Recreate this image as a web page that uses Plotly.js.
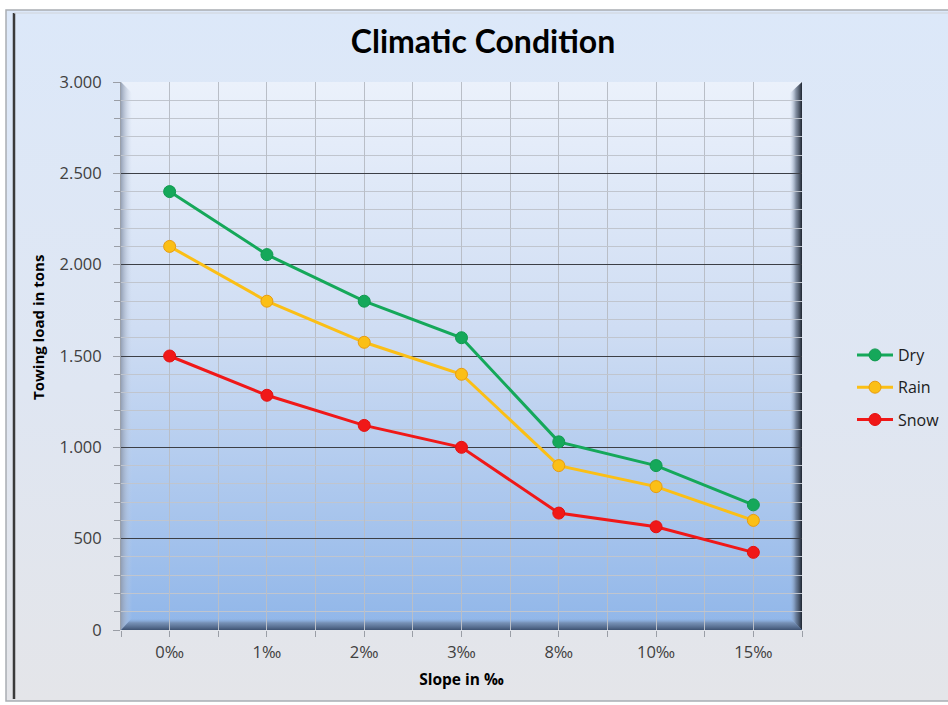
<!DOCTYPE html>
<html>
<head>
<meta charset="utf-8">
<script src="https://cdn.plot.ly/plotly-3.0.1.min.js"></script>
<style>html,body{margin:0;padding:0;background:#fff;}#chart{width:948px;height:705px;}</style>
</head>
<body>
<div id="chart"></div>
<script>
// ---- data ----
const categories = ['0‰', '1‰', '2‰', '3‰', '8‰', '10‰', '15‰'];
const dry  = [2400, 2055, 1800, 1600, 1030, 900, 685];
const rain = [2100, 1800, 1575, 1400, 900, 785, 600];
const snow = [1500, 1285, 1120, 1000, 640, 565, 425];
const seriesNames = ['Dry', 'Rain', 'Snow'];

// ---- layout geometry ----
const W = 948, H = 705;
const ML = 121, MR = 146, MT = 82, MB = 75;
const PW = W - ML - MR, PH = H - MT - MB;
const PX0 = ML, PX1 = W - MR, PY0 = MT, PY1 = H - MB;

const svg = `<svg xmlns='http://www.w3.org/2000/svg' width='${W}' height='${H}' viewBox='0 0 ${W} ${H}' preserveAspectRatio='none'>
<defs>
<linearGradient id='bg' x1='0' y1='0' x2='0' y2='1'>
<stop offset='0' stop-color='#dce8f9'/><stop offset='0.55' stop-color='#dfe6f2'/><stop offset='1' stop-color='#e4e5e9'/></linearGradient>
<linearGradient id='pa' x1='0' y1='0' x2='0' y2='1'>
<stop offset='0' stop-color='#ebf1fb'/><stop offset='0.45' stop-color='#cfddf3'/><stop offset='1' stop-color='#90b6e9'/></linearGradient>
<linearGradient id='lb' x1='0' y1='0' x2='1' y2='0'>
<stop offset='0' stop-color='#8f9bb0' stop-opacity='0.9'/><stop offset='1' stop-color='#c8d4e8' stop-opacity='0'/></linearGradient>
<linearGradient id='bb' x1='0' y1='1' x2='0' y2='0'>
<stop offset='0' stop-color='#3e5272'/><stop offset='0.6' stop-color='#6f86a8' stop-opacity='0.8'/><stop offset='1' stop-color='#90b6e9' stop-opacity='0'/></linearGradient>
<linearGradient id='rb' x1='1' y1='0' x2='0' y2='0'>
<stop offset='0' stop-color='#1e2530'/><stop offset='0.5' stop-color='#56647a' stop-opacity='0.7'/><stop offset='1' stop-color='#a0b4d0' stop-opacity='0'/></linearGradient>
</defs>
<rect x='0' y='0' width='${W}' height='${H}' fill='#ffffff'/>
<rect x='6' y='10' width='${W + 20}' height='${H - 14}' fill='url(#bg)' stroke='#a9adb3' stroke-width='1.5'/>
<line x1='14' y1='13' x2='14' y2='${H - 6}' stroke='#3a3a3a' stroke-width='2.5'/>
<line x1='14' y1='13' x2='${W}' y2='13' stroke='#d0d4da' stroke-width='1'/>
<rect x='${PX0}' y='${PY0}' width='${PW}' height='${PH}' fill='url(#pa)'/>
<polygon points='${PX0},${PY0} ${PX0 + 11},${PY0 + 11} ${PX0 + 11},${PY1 - 12} ${PX0},${PY1}' fill='url(#lb)'/>
<polygon points='${PX0},${PY1} ${PX0 + 11},${PY1 - 12} ${PX1 - 12},${PY1 - 12} ${PX1},${PY1}' fill='url(#bb)'/>
<polygon points='${PX1},${PY0} ${PX1 - 12},${PY0 + 11} ${PX1 - 12},${PY1 - 12} ${PX1},${PY1}' fill='url(#rb)'/>
</svg>`;

const xs = categories.map((_, i) => i);
const colors = ['#15a85a', '#fbbf16', '#f01818'];
const edge = ['#0f9a4f', '#e89c10', '#e41010'];
const values = [dry, rain, snow];

const traces = values.map((v, k) => ({
  type: 'scatter', mode: 'lines+markers',
  name: seriesNames[k], x: xs, y: v,
  legendgroup: 'g' + k,
  line: {color: colors[k], width: 3},
  marker: {color: colors[k], size: 12, line: {color: edge[k], width: 1}},
  hoverinfo: 'y+name'
}));

const FONT = '"Open Sans", "Noto Sans", sans-serif';
const tickFont = {family: FONT, size: 16.5, color: '#404040'};

const layout = {
  width: W, height: H,
  margin: {l: ML, r: MR, t: MT, b: MB, pad: 0, autoexpand: false},
  paper_bgcolor: '#ffffff',
  plot_bgcolor: 'rgba(0,0,0,0)',
  separators: ',.',
  showlegend: true,
  title: {
    text: '<b>Climatic Condition</b>',
    font: {family: 'Lato, "Open Sans", sans-serif', size: 32, color: '#000'},
    xref: 'container', yref: 'container',
    x: 483 / W, y: 1 - 42 / H, xanchor: 'center', yanchor: 'middle'
  },
  xaxis: {
    range: [-0.5, categories.length - 0.5],
    tickvals: xs, ticktext: categories,
    tickfont: tickFont,
    ticks: 'outside', ticklen: 6, tickcolor: '#9a9ea6', tickwidth: 1,
    ticklabelstandoff: 1,
    showgrid: true, gridcolor: '#b9bec7', gridwidth: 1,
    minor: {dtick: 0.5, tick0: -0.5, showgrid: true, gridcolor: '#b9bec7', gridwidth: 1,
            ticks: 'outside', ticklen: 6, tickcolor: '#9a9ea6'},
    showline: false, zeroline: false, fixedrange: true,
    title: {text: '<b>Slope in ‰</b>', font: {family: FONT, size: 15.5, color: '#000'}, standoff: 12}
  },
  yaxis: {
    range: [0, 3000], dtick: 500, tick0: 0,
    tickformat: ',d',
    tickfont: tickFont,
    ticks: 'outside', ticklen: 7, tickcolor: '#9a9ea6', tickwidth: 1,
    ticklabelstandoff: 8,
    showgrid: true, gridcolor: '#3c3f46', gridwidth: 1,
    minor: {dtick: 100, showgrid: true, gridcolor: '#c0c5ce', gridwidth: 1,
            ticks: 'outside', ticklen: 6, tickcolor: '#9a9ea6'},
    showline: true, linecolor: '#9aa0aa', linewidth: 1,
    zeroline: false, fixedrange: true
  },
  legend: {
    x: (852 - ML) / PW, y: (PY1 - 338) / PH, xanchor: 'left', yanchor: 'top',
    bgcolor: 'rgba(0,0,0,0)', borderwidth: 0,
    font: {family: FONT, size: 16, color: '#202020'},
    itemwidth: 36,
    traceorder: 'grouped', tracegroupgap: 8.5
  },
  annotations: [{
    text: '<b>Towing load in tons</b>', textangle: -90, showarrow: false,
    xref: 'paper', yref: 'paper',
    x: (38 - ML) / PW, y: (PY1 - 328) / PH, xanchor: 'center', yanchor: 'middle',
    font: {family: FONT, size: 15, color: '#000'}
  }],
  images: [{
    source: 'data:image/svg+xml;charset=utf-8,' + encodeURIComponent(svg),
    xref: 'paper', yref: 'paper',
    x: -ML / PW, y: 1 + MT / PH, sizex: W / PW, sizey: H / PH,
    xanchor: 'left', yanchor: 'top', sizing: 'stretch', layer: 'below'
  }]
};

Plotly.newPlot('chart', traces, layout, {displayModeBar: false, staticPlot: true});
</script>
</body>
</html>
